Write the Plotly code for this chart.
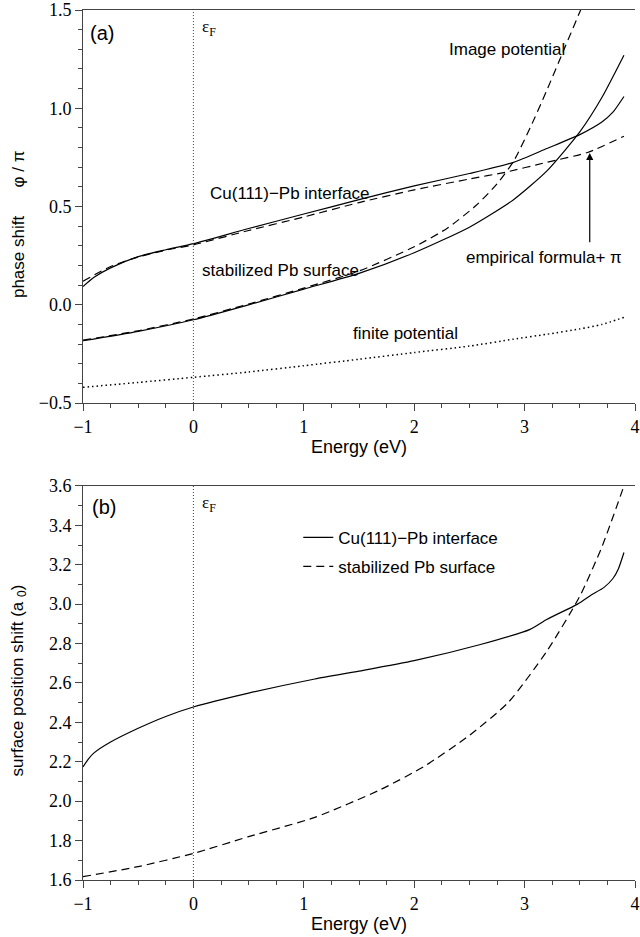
import plotly.graph_objects as go

# ---------------- data : panel (a) phase shift / pi ----------------
E_CU_CALC = [-1.0, -0.9, -0.75, -0.5, -0.25, 0.0, 0.5, 1.0, 1.5, 2.0, 2.5, 2.9, 3.2, 3.5, 3.7, 3.8, 3.9]
PHI_CU_CALC = [0.093, 0.14, 0.188, 0.245, 0.28, 0.311, 0.388, 0.462, 0.535, 0.605, 0.668, 0.725, 0.795, 0.866, 0.93, 0.98, 1.06]

E_CU_EMP = [-1.0, -0.75, -0.5, -0.25, 0.0, 0.5, 1.0, 1.5, 2.0, 2.5, 2.83, 3.2, 3.57, 3.9]
PHI_CU_EMP = [0.12, 0.195, 0.243, 0.278, 0.305, 0.378, 0.447, 0.52, 0.585, 0.64, 0.675, 0.725, 0.775, 0.858]

E_PB_CALC = [-1.0, -0.5, 0.0, 0.5, 1.0, 1.5, 2.0, 2.5, 2.9, 3.2, 3.5, 3.7, 3.9]
PHI_PB_CALC = [-0.183, -0.135, -0.076, 0.0, 0.08, 0.16, 0.265, 0.395, 0.535, 0.68, 0.88, 1.055, 1.27]

E_PB_IMAGE = [-1.0, -0.5, 0.0, 0.5, 1.0, 1.5, 2.0, 2.3, 2.56, 2.75, 2.9, 3.05, 3.2, 3.35, 3.5, 3.53]
PHI_PB_IMAGE = [-0.18, -0.132, -0.072, 0.004, 0.085, 0.172, 0.295, 0.39, 0.505, 0.615, 0.73, 0.90, 1.09, 1.29, 1.49, 1.53]

E_FINITE = [-1.0, -0.5, 0.0, 0.5, 1.0, 1.5, 2.0, 2.5, 2.9, 3.2, 3.5, 3.7, 3.9]
PHI_FINITE = [-0.42, -0.395, -0.369, -0.342, -0.31, -0.277, -0.243, -0.21, -0.175, -0.15, -0.123, -0.1, -0.064]

# ---------------- data : panel (b) surface position shift ----------------
E_B_CU = [-1.0, -0.95, -0.9, -0.75, -0.5, -0.25, 0.0, 0.5, 1.1, 1.5, 2.0, 2.6, 3.05, 3.2, 3.48, 3.6, 3.72, 3.8, 3.85, 3.9]
SHIFT_CU = [2.174, 2.215, 2.245, 2.30, 2.37, 2.43, 2.478, 2.548, 2.62, 2.66, 2.713, 2.795, 2.872, 2.922, 3.0, 3.045, 3.085, 3.13, 3.18, 3.262]

E_B_PB = [-1.0, -0.5, 0.0, 0.5, 1.1, 1.7, 2.1, 2.5, 2.85, 3.2, 3.5, 3.7, 3.9]
SHIFT_PB = [1.617, 1.668, 1.735, 1.82, 1.918, 2.06, 2.18, 2.334, 2.50, 2.76, 3.04, 3.29, 3.60]

LEGEND_NAMES = ["Cu(111)\u2212Pb interface", "stabilized Pb surface"]

FERMI_ENERGY = 0.0
X_RANGE = [-1, 4]
Y_RANGE_A = [-0.5, 1.5]
Y_RANGE_B = [1.6, 3.6]

# text labels of panel (a): (text, x, y)
LABELS_A = [
    ("Image potential", 2.84, 1.30),
    ("Cu(111)\u2212Pb interface", 0.874, 0.565),
    ("stabilized Pb surface", 0.79, 0.173),
    ("finite potential", 1.92, -0.144),
    ("empirical formula+ \u03c0", 3.175, 0.24),
]
ARROW_A = dict(x=3.59, y_head=0.773, y_tail=0.31)

SANS = "Liberation Sans"
SERIF = "Liberation Serif"
INK = "black"
AXC = "#444444"

fig = go.Figure()

def line(x, y, dash, xa, ya, name=None, show=False, group=None, width=1.2):
    fig.add_trace(go.Scatter(
        x=x, y=y, mode="lines", xaxis=xa, yaxis=ya,
        line=dict(color=INK, width=width, dash=dash, shape="spline", smoothing=0.6),
        name=name, showlegend=show, legendgroup=group, hoverinfo="skip"))

line(E_CU_CALC, PHI_CU_CALC, "solid", "x", "y")
line(E_CU_EMP, PHI_CU_EMP, "8px,5px", "x", "y")
line(E_PB_CALC, PHI_PB_CALC, "solid", "x", "y")
line(E_PB_IMAGE, PHI_PB_IMAGE, "8px,5px", "x", "y")
line(E_FINITE, PHI_FINITE, "1.5px,3px", "x", "y", width=1.5)

line(E_B_CU, SHIFT_CU, "solid", "x2", "y2", LEGEND_NAMES[0], True, "g1")
line(E_B_PB, SHIFT_PB, "8px,5px", "x2", "y2", LEGEND_NAMES[1], True, "g2")

axis_common = dict(
    showline=True, linecolor=AXC, linewidth=1, ticks="outside", ticklen=7,
    tickcolor=AXC, tickwidth=1, showgrid=False, zeroline=False,
    tickfont=dict(family=SERIF, size=18, color=INK), ticklabeloverflow="allow",
)
xcommon = dict(axis_common, range=X_RANGE, dtick=1, tick0=0, mirror=True,
               minor=dict(dtick=0.25, ticklen=4, ticks="outside", tickcolor=AXC),
               title=dict(text="Energy (eV)", font=dict(family=SANS, size=18, color=INK), standoff=4))

fig.update_layout(
    width=640, height=937,
    margin=dict(l=83, r=0, t=8, b=57),
    paper_bgcolor="white", plot_bgcolor="white",
    xaxis=dict(xcommon, domain=[0, 1], anchor="y"),
    yaxis=dict(axis_common, domain=[0.5482, 1], anchor="x", range=Y_RANGE_A, dtick=0.5,
               tickformat=".1f", minor=dict(dtick=0.1, ticklen=4, ticks="outside", tickcolor=AXC)),
    xaxis2=dict(xcommon, domain=[0, 1], anchor="y2"),
    yaxis2=dict(axis_common, domain=[0, 0.4530], anchor="x2", range=Y_RANGE_B, dtick=0.2,
                tickformat=".1f", minor=dict(dtick=0.1, ticklen=4, ticks="outside", tickcolor=AXC)),
    showlegend=True,
    legend=dict(x=0.39, y=0.414, xanchor="left", yanchor="top", bgcolor="rgba(0,0,0,0)",
                font=dict(family=SANS, size=17, color=INK), tracegroupgap=4,
                traceorder="grouped"),
)

# Fermi level lines
for xr, yr in (("x", "y domain"), ("x2", "y2 domain")):
    fig.add_shape(type="line", xref=xr, yref=yr, x0=FERMI_ENERGY, x1=FERMI_ENERGY, y0=0, y1=1,
                  line=dict(color=AXC, width=1, dash="1px,2px"))

ann = []
for text, x, y in LABELS_A:
    ann.append(dict(text=text, x=x, y=y, xref="x", yref="y", showarrow=False,
                    font=dict(family=SANS, size=17, color=INK)))
ann.append(dict(text="", x=ARROW_A["x"], y=ARROW_A["y_head"], ax=ARROW_A["x"], ay=ARROW_A["y_tail"],
                xref="x", yref="y", axref="x", ayref="y", showarrow=True, arrowhead=2,
                arrowsize=1.2, arrowwidth=1.2, arrowcolor=INK))
ann.append(dict(text="(a)", x=-0.825, y=1.382, xref="x", yref="y", showarrow=False,
                font=dict(family=SANS, size=20, color=INK)))
ann.append(dict(text="(b)", x=-0.81, y=3.495, xref="x2", yref="y2", showarrow=False,
                font=dict(family=SANS, size=20, color=INK)))
ann.append(dict(text="\u03b5<sub>F</sub>", x=0.143, y=1.406, xref="x", yref="y", showarrow=False,
                font=dict(family=SERIF, size=17, color=INK)))
ann.append(dict(text="\u03b5<sub>F</sub>", x=0.143, y=3.51, xref="x2", yref="y2", showarrow=False,
                font=dict(family=SERIF, size=17, color=INK)))
# y-axis titles
ann.append(dict(text="phase shift" + "\u00a0" * 6 + "\u03c6 / \u03c0", x=-0.1158, y=0.7529,
                xref="paper", yref="paper", xanchor="center", yanchor="middle",
                textangle=-90, showarrow=False,
                font=dict(family=SANS, size=17, color=INK)))
ann.append(dict(text="surface position shift (a <sub>0</sub>)", x=-0.1158, y=0.2294,
                xref="paper", yref="paper", xanchor="center", yanchor="middle",
                textangle=-90, showarrow=False,
                font=dict(family=SANS, size=17, color=INK)))
fig.update_layout(annotations=ann)

fig.write_html("out.html")
